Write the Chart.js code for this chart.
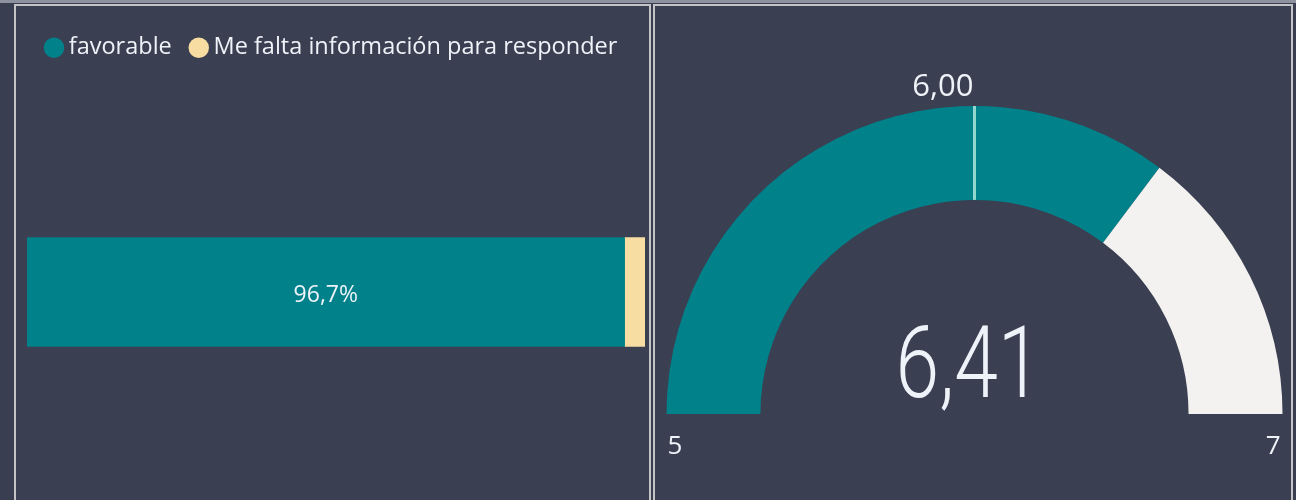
<!DOCTYPE html>
<html>
<head>
<meta charset="utf-8">
<script src="https://cdn.jsdelivr.net/npm/chart.js@4.4.1/dist/chart.umd.min.js"></script>
<style>
  html, body { margin: 0; padding: 0; }
  body { width: 1296px; height: 500px; overflow: hidden; background: #393e50; position: relative; font-family: 'Open Sans', sans-serif; }
  .strip { position: absolute; left: 0; top: 0; width: 1296px; height: 3px; background: #8e929e; }
  .panel { position: absolute; top: 4px; height: 520px; box-sizing: border-box; border: 2px solid #c4c4c6; background: #3a3f51; }
  #pLeft { left: 14px; width: 637px; }
  #pRight { left: 653px; width: 640px; }
  .wrap { position: absolute; }
  #wLeft { left: 16px; top: 6px; width: 633px; height: 540px; }
  #wRight { left: 655px; top: 6px; width: 636px; height: 494px; }
</style>
</head>
<body>
<div class="strip"></div>
<div class="panel" id="pLeft"></div>
<div class="panel" id="pRight"></div>
<div class="wrap" id="wLeft"><canvas id="barChart"></canvas></div>
<div class="wrap" id="wRight"><canvas id="gaugeChart"></canvas></div>
<script>
// data
const categories = ['Respuestas'];
const favorable = [96.7];
const faltaInfo = [3.3];
const seriesNames = ['favorable', 'Me falta información para responder'];

const gaugeRange = [5, 7];
const gaugeValue = [6.41];
const gaugeTarget = [6.00];

const TEXT = '#eef3f9';
const TEAL = '#01818a';
const fmt = (v, d) => v.toFixed(d).replace('.', ',');

Chart.defaults.font.family = "'Open Sans', sans-serif";
Chart.defaults.color = TEXT;

// label inside the favorable bar
const barLabel = {
  id: 'barLabel',
  afterDatasetsDraw(chart) {
    const ctx = chart.ctx;
    const meta = chart.getDatasetMeta(0);
    meta.data.forEach((bar, i) => {
      const { x, y, base } = bar.getProps(['x', 'y', 'base'], true);
      ctx.save();
      ctx.fillStyle = TEXT;
      ctx.font = "23px 'Open Sans', sans-serif";
      ctx.textAlign = 'center';
      ctx.textBaseline = 'middle';
      ctx.fillText(fmt(favorable[i], 1) + '%', (x + base) / 2, y + 3);
      ctx.restore();
    });
  }
};

new Chart(document.getElementById('barChart'), {
  type: 'bar',
  data: {
    labels: categories,
    datasets: [
      { label: seriesNames[0], data: favorable, backgroundColor: TEAL, barThickness: 109 },
      { label: seriesNames[1], data: faltaInfo, backgroundColor: '#f8dda2', barThickness: 109 }
    ]
  },
  options: {
    indexAxis: 'y',
    responsive: true,
    maintainAspectRatio: false,
    animation: false,
    layout: { padding: { left: 11, right: 4, top: 6, bottom: 31.5 } },
    scales: {
      x: { stacked: true, min: 0, max: 100, display: false },
      y: { stacked: true, display: false }
    },
    plugins: {
      legend: {
        position: 'top',
        align: 'start',
        labels: {
          usePointStyle: true,
          pointStyle: 'circle',
          boxWidth: 6,
          boxHeight: 14.5,
          padding: 24,
          color: TEXT,
          font: { size: 23.5 }
        }
      },
      tooltip: { enabled: false }
    }
  },
  plugins: [barLabel]
});

// gauge decorations: target mark, callout value, min/max labels
const gaugeText = {
  id: 'gaugeText',
  afterDatasetsDraw(chart) {
    const ctx = chart.ctx;
    const arc = chart.getDatasetMeta(0).data[0];
    const { x, y, innerRadius, outerRadius } = arc.getProps(['x', 'y', 'innerRadius', 'outerRadius'], true);
    const [lo, hi] = gaugeRange;

    // target line
    const a = -Math.PI + (gaugeTarget[0] - lo) / (hi - lo) * Math.PI;
    ctx.save();
    ctx.strokeStyle = '#93d6cb';
    ctx.lineWidth = 3;
    ctx.beginPath();
    ctx.moveTo(x + Math.cos(a) * innerRadius, y + Math.sin(a) * innerRadius);
    ctx.lineTo(x + Math.cos(a) * outerRadius, y + Math.sin(a) * outerRadius);
    ctx.stroke();

    ctx.fillStyle = TEXT;
    ctx.textBaseline = 'alphabetic';

    // target label
    ctx.font = "31px 'Open Sans', sans-serif";
    ctx.textAlign = 'right';
    ctx.fillText(fmt(gaugeTarget[0], 2), x + Math.cos(a) * outerRadius - 1, y + Math.sin(a) * outerRadius - 10);

    // min / max
    ctx.font = "26px 'Open Sans', sans-serif";
    ctx.textAlign = 'left';
    ctx.fillText(String(lo), x - outerRadius + 1, y + 40);
    ctx.textAlign = 'right';
    ctx.fillText(String(hi), x + outerRadius - 2, y + 40);

    // callout value (thin, condensed)
    ctx.font = "300 100px 'Roboto', sans-serif";
    const txt = fmt(gaugeValue[0], 2);
    const w = ctx.measureText(txt).width;
    const s = 146 / w;
    ctx.translate(x - 6, y - 17);
    ctx.scale(s, 1);
    ctx.textAlign = 'center';
    ctx.fillText(txt, 0, 0);
    ctx.restore();
  }
};

new Chart(document.getElementById('gaugeChart'), {
  type: 'doughnut',
  data: {
    labels: ['valor', 'resto'],
    datasets: [{
      data: [gaugeValue[0] - gaugeRange[0], gaugeRange[1] - gaugeValue[0]],
      backgroundColor: [TEAL, '#f3f2f0'],
      borderWidth: 0
    }]
  },
  options: {
    responsive: true,
    maintainAspectRatio: false,
    animation: false,
    rotation: -90,
    circumference: 180,
    cutout: '69.5%',
    layout: { padding: { left: 11.5, right: 8.5, top: 100, bottom: 86 } },
    plugins: { legend: { display: false }, tooltip: { enabled: false } }
  },
  plugins: [gaugeText]
});
</script>
</body>
</html>
